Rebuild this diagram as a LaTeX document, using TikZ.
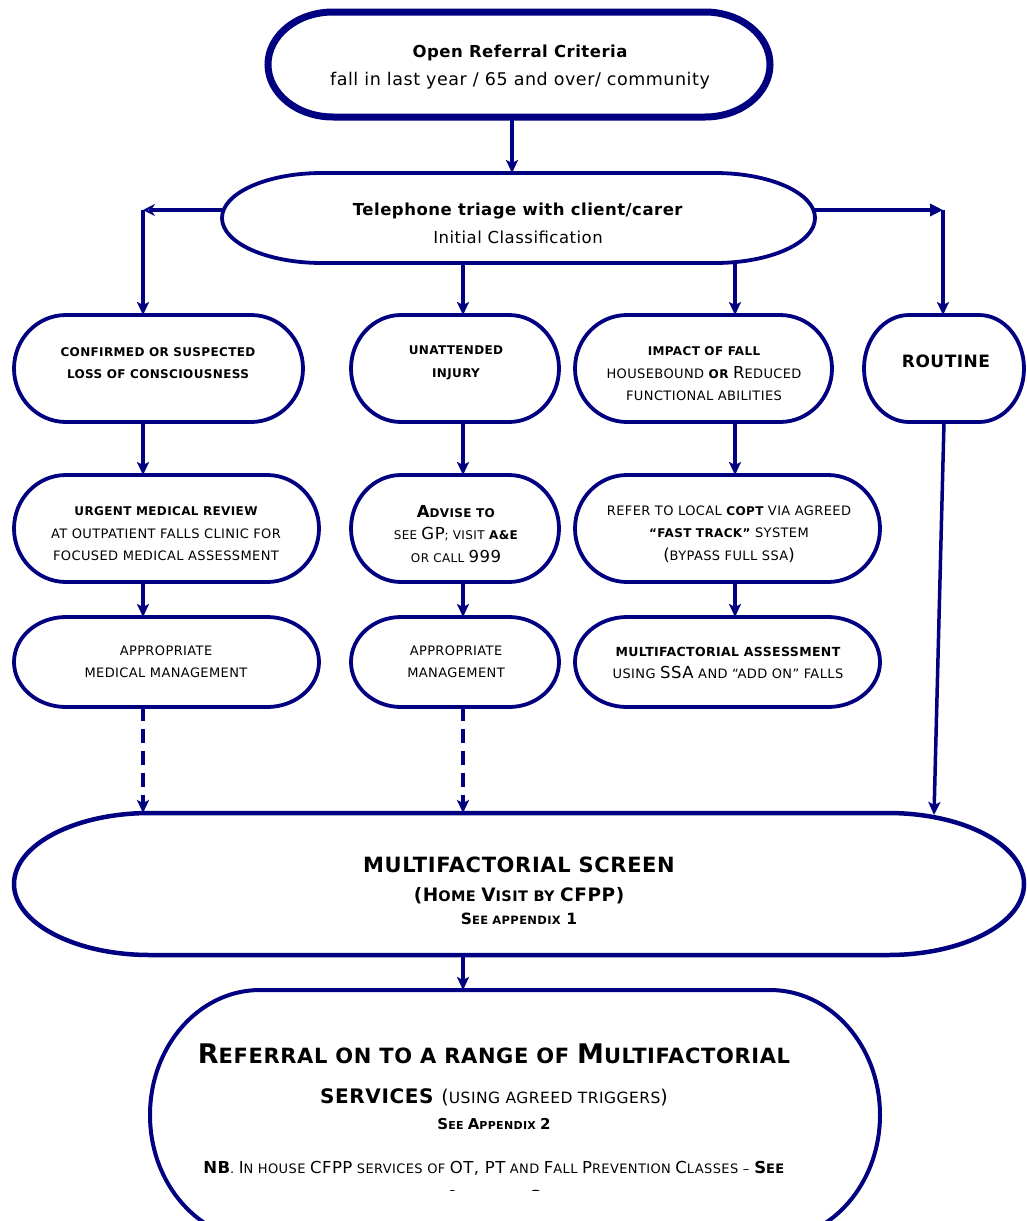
\documentclass[tikz,border=0pt]{standalone}
\usepackage{fontspec}
\setmainfont{DejaVu Sans}[LetterSpace=3]
\usetikzlibrary{arrows.meta}
\definecolor{navy}{RGB}{0,0,128}
\newcommand\Sm{\fontsize{13}{22.5}\selectfont}
\newcommand\Bd[1]{{\fontsize{12}{22.5}\selectfont\bfseries #1}}
\newcommand\Bg[1]{{\fontsize{16.5}{22.5}\selectfont #1}}
\newcommand\pill[4][]{\draw[navy,#1] ([xshift=#3]#2.north west) -- ([xshift=-#3]#2.north east) arc[start angle=90,end angle=-90,x radius=#3,y radius=#4] -- ([xshift=#3]#2.south west) arc[start angle=270,end angle=90,x radius=#3,y radius=#4] -- cycle;}
\begin{document}
\begin{tikzpicture}[x=1pt,y=-1pt,
  shp/.style 2 args={minimum width=#1, minimum height=#2, inner sep=0pt, outer sep=0pt, draw=none},
  txt/.style={align=center, inner sep=0pt, text=black, font=\Sm},
  conn/.style={navy, line width=3.5pt},
  arr/.style={conn, -{Stealth[length=13pt,width=12pt,inset=3pt]}},
  bw/.style={line width=3.8pt}]
\useasboundingbox[fill=white] (0,0) rectangle (1026,1221);

% ---------- shapes ----------
\node[shp={502}{105}] (top) at (519,64.5) {};
\pill[line width=7pt]{top}{65pt}{52.5pt}
\node[txt, font=\fontsize{17.5}{28}\selectfont] (topt) at (520,67) {{\fontsize{16.5}{28}\selectfont\bfseries Open Referral Criteria}\\fall in last year / 65 and over/ community};

\node[shp={593}{90}] (tri) at (518.5,218) {};
\pill[bw]{tri}{100pt}{45pt}
\node[txt, font=\fontsize{16.5}{28}\selectfont] (trit) at (518,223) {\textbf{Telephone triage with client/carer}\\Initial Classification};

% row A
\node[shp={289}{107}] (a1) at (158.5,368.5) {};
\pill[bw]{a1}{52pt}{53.5pt}
\node[txt] (a1t) at (158,363) {\Bd{CONFIRMED OR SUSPECTED}\\\Bd{LOSS OF CONSCIOUSNESS}};

\node[shp={208}{107}] (a2) at (455,368.5) {};
\pill[bw]{a2}{50pt}{53.5pt}
\node[txt] (a2t) at (456,363) {\Bd{UNATTENDED}\\\Bd{INJURY}};

\node[shp={257}{107}] (a3) at (703.5,368.5) {};
\pill[bw]{a3}{52pt}{53.5pt}
\node[txt] (a3t) at (704,374) {\Bd{IMPACT OF FALL}\\HOUSEBOUND \Bd{OR} \Bg{R}EDUCED\\FUNCTIONAL ABILITIES};

\node[shp={160}{107}] (a4) at (944,368.5) {};
\pill[bw]{a4}{45pt}{53.5pt}
\node[txt, font=\fontsize{17}{22}\selectfont\bfseries] (a4t) at (946,361) {ROUTINE};

% row B
\node[shp={305}{107}] (b1) at (166.5,528.5) {};
\pill[bw]{b1}{52pt}{53.5pt}
\node[txt] (b1t) at (166,534) {\Bd{URGENT MEDICAL REVIEW}\\AT OUTPATIENT FALLS CLINIC FOR\\FOCUSED MEDICAL ASSESSMENT};

\node[shp={208}{107}] (b2) at (455,528.5) {};
\pill[bw]{b2}{50pt}{53.5pt}
\node[txt, font=\fontsize{12}{22.5}\selectfont] (b2t) at (456,534) {\textbf{\Bg{A}DVISE TO}\\SEE \Bg{GP}; VISIT \textbf{A\&E}\\OR CALL \Bg{999}};

\node[shp={305}{107}] (b3) at (727.5,528.5) {};
\pill[bw]{b3}{52pt}{53.5pt}
\node[txt] (b3t) at (729,534) {REFER TO LOCAL \Bd{COPT} VIA AGREED\\\Bd{“FAST TRACK”} SYSTEM\\\Bg{(}BYPASS FULL SSA\Bg{)}};

% row C
\node[shp={305}{90}] (c1) at (166.5,662) {};
\pill[bw]{c1}{52pt}{45pt}
\node[txt] (c1t) at (166,662) {APPROPRIATE\\MEDICAL MANAGEMENT};

\node[shp={208}{90}] (c2) at (455,662) {};
\pill[bw]{c2}{50pt}{45pt}
\node[txt] (c2t) at (456,662) {APPROPRIATE\\MANAGEMENT};

\node[shp={305}{90}] (c3) at (727.5,662) {};
\pill[bw]{c3}{52pt}{45pt}
\node[txt] (c3t) at (728,663) {{\fontsize{12.5}{22.5}\selectfont\bfseries MULTIFACTORIAL ASSESSMENT}\\USING \Bg{SSA} AND “ADD ON” FALLS};

% multifactorial screen
\node[shp={1010}{142}] (ms) at (519,884) {};
\pill[line width=4.5pt]{ms}{136pt}{71pt}
\node[txt, font=\fontsize{14.5}{28}\selectfont\bfseries] (mst) at (519,891) {{\fontsize{21}{28}\selectfont MULTIFACTORIAL SCREEN}\\[1pt]{\fontsize{18.5}{28}\selectfont (H}OME {\fontsize{18.5}{28}\selectfont V}ISIT BY {\fontsize{18.5}{28}\selectfont CFPP)}\\[-5pt]{\fontsize{15.5}{20}\selectfont S}{\fontsize{11.5}{20}\selectfont EE APPENDIX} {\fontsize{15.5}{20}\selectfont 1}};

% bottom referral
\node[shp={730}{250}] (bot) at (515,1115) {};
\pill[line width=4pt]{bot}{110pt}{125pt}
\node[txt, font=\fontsize{21}{40}\selectfont\bfseries] (bott) at (494,1075) {{\fontsize{27}{40}\selectfont R}EFERRAL ON TO A RANGE OF {\fontsize{27}{40}\selectfont M}ULTIFACTORIAL\\{\fontsize{20}{40}\selectfont SERVICES} \mdseries{\fontsize{19}{30}\selectfont (}{\fontsize{15.5}{30}\selectfont USING AGREED TRIGGERS}{\fontsize{19}{30}\selectfont )}};
\node[txt, font=\fontsize{11}{20}\selectfont\bfseries] (app2) at (494,1124) {{\fontsize{15}{20}\selectfont S}EE {\fontsize{15}{20}\selectfont A}PPENDIX {\fontsize{15}{20}\selectfont 2}};
\node[txt, font=\fontsize{13}{20}\selectfont] (nb) at (494,1168) {\textbf{\fontsize{16.5}{20}\selectfont NB}. {\fontsize{16.5}{20}\selectfont I}N HOUSE {\fontsize{16.5}{20}\selectfont CFPP} SERVICES OF {\fontsize{16.5}{20}\selectfont OT, PT} AND {\fontsize{16.5}{20}\selectfont F}ALL {\fontsize{16.5}{20}\selectfont P}REVENTION {\fontsize{16.5}{20}\selectfont C}LASSES – \textbf{{\fontsize{16.5}{20}\selectfont S}EE}};
\begin{scope}
\clip (0,0) rectangle (1026,1190);
\node[txt, font=\fontsize{13}{20}\selectfont\bfseries] (app3) at (494,1196) {{\fontsize{16.5}{20}\selectfont A}PPENDIX {\fontsize{16.5}{20}\selectfont 3}};
\end{scope}

% ---------- connectors ----------
\draw[arr] ([xshift=-7pt]top.south) -- ([xshift=-6.5pt]tri.north);

\coordinate (cl) at (143,210);
\coordinate (cr) at (943,210);
\draw[conn, -{Stealth[length=12pt,width=12pt,inset=4pt,open]}] ([yshift=8pt]tri.west) -- (cl);
\draw[arr] (cl) -- (cl |- a1.north);
\draw[conn, -{Triangle[length=13pt,width=12pt]}] ([yshift=8pt]tri.east) -- (cr);
\draw[arr] (cr) -- (cr |- a4.north);

\coordinate (m2) at ([xshift=8pt]a2.north);
\draw[arr] (m2 |- tri.south) -- (m2);
\coordinate (m3) at ([xshift=31.5pt]a3.north);
\draw[arr] (m3 |- tri.south) -- (m3);

\coordinate (l1) at ([xshift=-15.5pt]a1.south);
\draw[arr] (l1) -- (l1 |- b1.north);
\draw[arr] (l1 |- b1.south) -- (l1 |- c1.north);
\draw[arr, dashed, dash pattern=on 14pt off 8pt] (l1 |- c1.south) -- (l1 |- ms.north);

\coordinate (l2) at ([xshift=8pt]a2.south);
\draw[arr] (l2) -- (l2 |- b2.north);
\draw[arr] (l2 |- b2.south) -- (l2 |- c2.north);
\draw[arr, dashed, dash pattern=on 14pt off 8pt] (l2 |- c2.south) -- (l2 |- ms.north);

\coordinate (l3) at ([xshift=31.5pt]a3.south);
\draw[arr] (l3) -- (l3 |- b3.north);
\draw[arr] (l3 |- b3.south) -- (l3 |- c3.north);

\coordinate (r4) at ([xshift=-10pt]a4.south);
\draw[arr] (a4.south) -- ([yshift=-2pt]r4 |- ms.north);

\coordinate (l5) at ([xshift=-56pt]ms.south);
\draw[arr] (l5) -- (l5 |- bot.north);
\end{tikzpicture}
\end{document}
